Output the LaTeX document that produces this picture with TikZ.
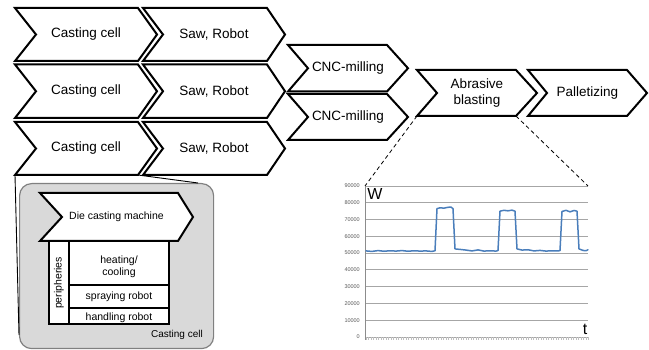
\documentclass[tikz,border=0pt]{standalone}
\usepackage{fontspec}
\setmainfont{Liberation Sans}
\usetikzlibrary{calc}
\definecolor{plotblue}{RGB}{74,126,187}
\tikzset{
  chevline/.style={draw=black, fill=white, line width=2pt, line join=miter},
  chevtext/.style={font=\fontsize{13.5}{16}\selectfont, align=center, inner sep=0pt},
  dietext/.style={font=\fontsize{10.5}{12}\selectfont, align=center, inner sep=0pt},
  smalltext/.style={font=\fontsize{10.5}{12}\selectfont, align=center, inner sep=0pt},
  perline/.style={draw=black, line width=2pt},
  cellbox/.style={draw=black!50, fill=black!15, line width=1.2pt, rounded corners=12pt},
  callout/.style={draw=black, line width=0.9pt},
  dashcallout/.style={draw=black, line width=0.8pt, dash pattern=on 4pt off 3pt},
  gridline/.style={draw=black!35, line width=0.9pt},
  axisline/.style={draw=black!45, line width=0.9pt},
  ticksty/.style={draw=black!25, line width=0.6pt},
  ylab/.style={font=\fontsize{5.5}{6}\selectfont, text=black!65, anchor=east, inner sep=0pt},
  axlab/.style={font=\fontsize{16}{18}\selectfont, inner sep=0pt},
  plotline/.style={draw=plotblue, line width=1.5pt, line join=round, line cap=round}
}
% name, left x, tip x, top y, bottom y, tip depth, notch depth, text style, text
\newcommand{\chev}[9]{%
  \draw[chevline] (#2,#4) coordinate (#1-tl) -- ({#3-#6},#4) coordinate (#1-tr)
    -- (#3,{(#4+#5)/2}) coordinate (#1-tip) -- ({#3-#6},#5) coordinate (#1-br)
    -- (#2,#5) coordinate (#1-bl) -- ({#2+#7},{(#4+#5)/2}) coordinate (#1-notch) -- cycle;
  \node[#8] (#1) at ({(#2+#3)/2},{(#4+#5)/2}) {#9};
}
\begin{document}
\begin{tikzpicture}[x=1pt,y=-1pt]
\useasboundingbox (0,0) rectangle (649,350);

% process chain
\chev{cc1}{15}{157}{8}{61}{19}{21}{chevtext}{Casting cell}
\chev{sr1}{143}{285}{8}{61}{18}{20}{chevtext}{Saw, Robot}
\chev{cc2}{15}{157}{64.5}{118}{19}{21}{chevtext}{Casting cell}
\chev{sr2}{143}{285}{64.5}{118}{18}{20}{chevtext}{Saw, Robot}
\chev{cc3}{15}{157}{122}{175}{19}{21}{chevtext}{Casting cell}
\chev{sr3}{143}{285}{122}{175}{18}{20}{chevtext}{Saw, Robot}
\chev{cnc1}{288}{408}{45}{91.5}{21}{20}{chevtext}{CNC-milling}
\chev{cnc2}{288}{408}{94}{140}{21}{20}{chevtext}{CNC-milling}
\chev{abr}{417}{537}{70}{116}{21}{20}{chevtext}{Abrasive\\blasting}
\chev{pal}{528}{647}{70}{116}{20}{19}{chevtext}{Palletizing}

% casting cell detail
\node[cellbox, minimum width=194pt, minimum height=165pt, anchor=north west] (cellbox) at (19,183) {};
\coordinate (boxL) at (19,335);
\coordinate (boxT) at (198,183);
\draw[callout] (cc3-bl) -- (boxL);
\draw[callout] (cc3-br) -- (boxT);

\chev{dcm}{40}{193}{193}{241}{15}{22}{dietext}{Die casting machine}
\draw[perline, fill=white] (49,241) rectangle (169,324);
\draw[perline] (69,241) -- (69,324);
\draw[perline] (69,285) -- (169,285);
\draw[perline] (69,308) -- (169,308);
\node[smalltext, rotate=90] (periph) at (59,283) {peripheries};
\node[smalltext] (heat) at (119,266.5) {heating/\\cooling};
\node[smalltext] (spray) at (119,297) {spraying robot};
\node[smalltext, anchor=base] (handl) at (119,321) {handling robot};
\node[font=\fontsize{10}{12}\selectfont, inner sep=0pt] (celllab) at (177,335) {Casting cell};

% chart
\coordinate (plotTL) at (365,186);
\coordinate (plotTR) at (588,186);
\foreach \k in {1,...,9} {
  \draw[gridline] (365,{337-16.78*\k}) -- (588,{337-16.78*\k});
}
\draw[gridline] (365,337) -- (588,337);
\foreach \i in {0,...,89} {
  \draw[ticksty] ({366+2.5*\i},337.5) -- ({366+2.5*\i},340.5);
}
\draw[axisline] (365,186) -- (365,340);
\foreach \k/\val in {0/0,1/10000,2/20000,3/30000,4/40000,5/50000,6/60000,7/70000,8/80000,9/90000} {
  \node[ylab] (yl\k) at (360,{337-16.78*\k}) {\val};
}
\draw[plotline] plot coordinates {
 (366,{337-1.678*51.3}) (372,{337-1.678*51.0}) (378,{337-1.678*51.5}) (384,{337-1.678*51.1})
 (390,{337-1.678*51.4}) (396,{337-1.678*51.2}) (402,{337-1.678*51.5}) (408,{337-1.678*51.1})
 (414,{337-1.678*51.4}) (420,{337-1.678*51.2}) (426,{337-1.678*51.3}) (432,{337-1.678*51.0})
 (435,{337-1.678*51.4}) (437,{337-1.678*76.5}) (440,{337-1.678*77.0}) (444,{337-1.678*76.8})
 (448,{337-1.678*77.3}) (451,{337-1.678*77.4}) (453,{337-1.678*76.5}) (455,{337-1.678*52.5})
 (460,{337-1.678*52.2}) (466,{337-1.678*51.8}) (472,{337-1.678*51.3}) (478,{337-1.678*51.9})
 (484,{337-1.678*51.2}) (490,{337-1.678*51.4}) (496,{337-1.678*51.2}) (498,{337-1.678*51.5})
 (500,{337-1.678*75.0}) (504,{337-1.678*75.5}) (508,{337-1.678*75.2}) (512,{337-1.678*75.6})
 (515,{337-1.678*75.0}) (517,{337-1.678*52.5}) (522,{337-1.678*51.8}) (528,{337-1.678*52.0})
 (534,{337-1.678*51.3}) (540,{337-1.678*51.6}) (546,{337-1.678*51.2}) (552,{337-1.678*51.4})
 (558,{337-1.678*51.3}) (560,{337-1.678*51.5}) (562,{337-1.678*74.8}) (566,{337-1.678*75.5})
 (570,{337-1.678*74.6}) (574,{337-1.678*75.4}) (577,{337-1.678*75.0}) (579,{337-1.678*52.5})
 (583,{337-1.678*51.6}) (586,{337-1.678*51.4}) (588,{337-1.678*52.0})
};
\node[axlab] (wlab) at (375,194) {W};
\node[axlab] (tlab) at (585,329) {t};

% zoom lines to chart
\draw[dashcallout] (abr-bl) -- (plotTL);
\draw[dashcallout] (abr-br) -- (plotTR);
\end{tikzpicture}
\end{document}
